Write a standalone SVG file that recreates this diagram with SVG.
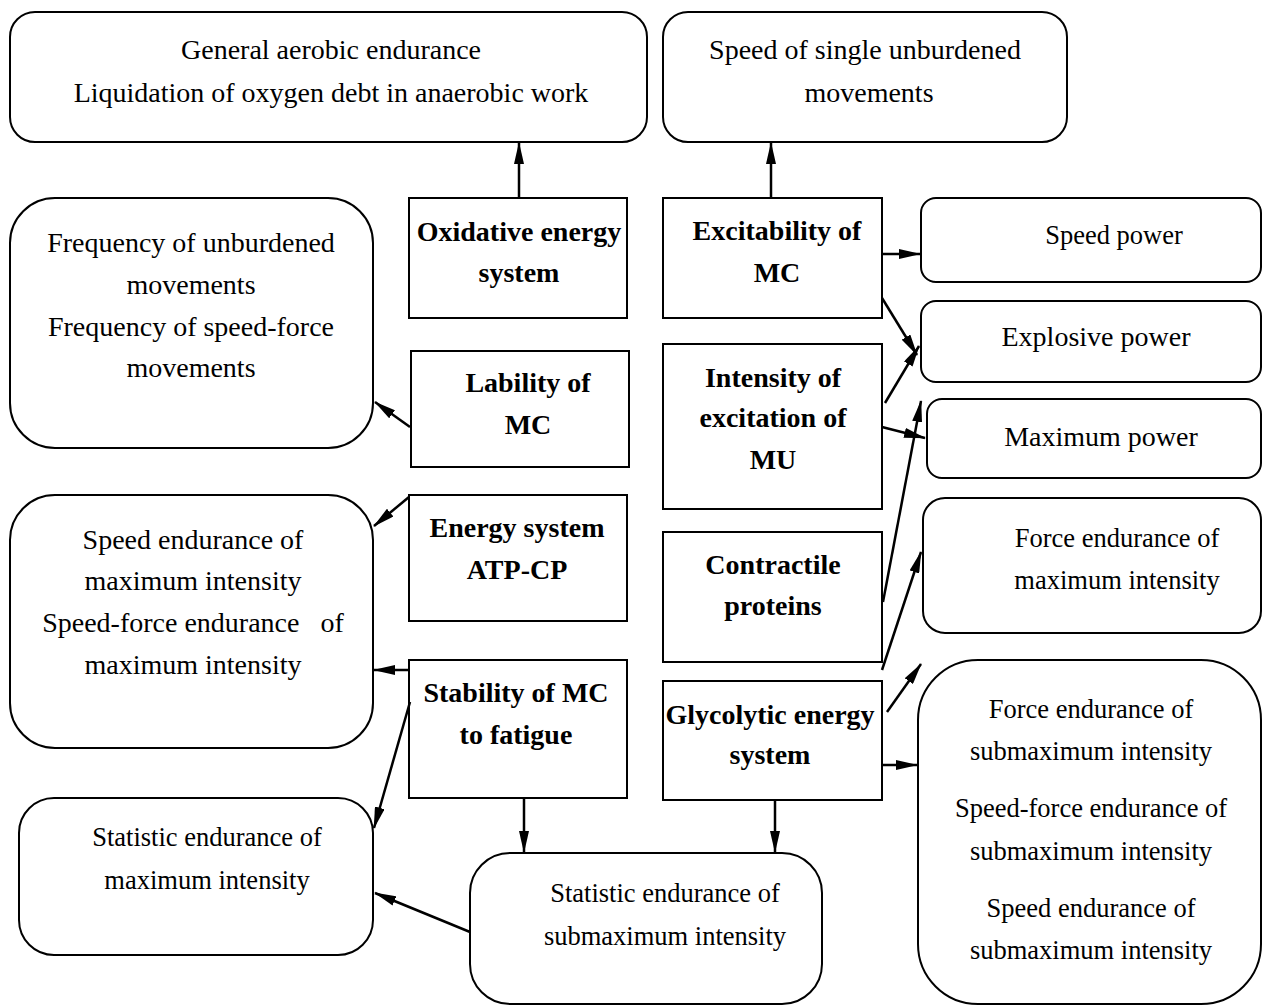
<svg xmlns="http://www.w3.org/2000/svg" width="1263" height="1006" viewBox="0 0 1263 1006">
<style>
.box{fill:#fff;stroke:#000;stroke-width:2}
.t{font-family:"Liberation Serif","Times New Roman",serif;font-size:28px;fill:#000;text-anchor:middle}
.s{font-size:26.5px}
.b{font-weight:bold}
.c line{stroke:#000;stroke-width:2.5;marker-end:url(#ah)}
</style>
<defs>
<marker id="ah" markerUnits="userSpaceOnUse" markerWidth="22" markerHeight="10" refX="21" refY="5" orient="auto">
<path d="M0,0 L22,5 L0,10 z" fill="#000"/>
</marker>
</defs>
<rect width="1263" height="1006" fill="#fff"/>
<g id="aerobic"><rect class="box" x="10" y="12" width="637" height="130" rx="25"/>
<text class="t" x="331" y="59">General aerobic endurance</text>
<text class="t" x="331" y="102">Liquidation of oxygen debt in anaerobic work</text></g>
<g id="speed-single"><rect class="box" x="663" y="12" width="404" height="130" rx="25"/>
<text class="t" x="865" y="59">Speed of single unburdened</text>
<text class="t" x="869" y="102">movements</text></g>
<g id="oxidative"><rect class="box" x="409" y="198" width="218" height="120"/>
<text class="t b" x="519" y="241">Oxidative energy</text>
<text class="t b" x="519" y="282">system</text></g>
<g id="excitability"><rect class="box" x="663" y="198" width="219" height="120"/>
<text class="t b" x="777" y="240">Excitability of</text>
<text class="t b" x="777" y="282">MC</text></g>
<g id="speed-power"><rect class="box" x="921" y="198" width="340" height="84" rx="15"/>
<text class="t s" x="1114" y="244">Speed power</text></g>
<g id="explosive"><rect class="box" x="921" y="301" width="340" height="81" rx="15"/>
<text class="t" x="1096" y="346">Explosive power</text></g>
<g id="maximum-power"><rect class="box" x="927" y="399" width="334" height="79" rx="15"/>
<text class="t" x="1101" y="446">Maximum power</text></g>
<g id="frequency"><rect class="box" x="10" y="198" width="363" height="250" rx="45"/>
<text class="t" x="191" y="252">Frequency of unburdened</text>
<text class="t" x="191" y="294">movements</text>
<text class="t" x="191" y="336">Frequency of speed-force</text>
<text class="t" x="191" y="377">movements</text></g>
<g id="lability"><rect class="box" x="411" y="351" width="218" height="116"/>
<text class="t b" x="528" y="392">Lability of</text>
<text class="t b" x="528" y="434">MC</text></g>
<g id="intensity"><rect class="box" x="663" y="344" width="219" height="165"/>
<text class="t b" x="773" y="387">Intensity of</text>
<text class="t b" x="773" y="427">excitation of</text>
<text class="t b" x="773" y="469">MU</text></g>
<g id="atp-cp"><rect class="box" x="409" y="495" width="218" height="126"/>
<text class="t b" x="517" y="537">Energy system</text>
<text class="t b" x="517" y="579">ATP-CP</text></g>
<g id="contractile"><rect class="box" x="663" y="532" width="219" height="130"/>
<text class="t b" x="773" y="574">Contractile</text>
<text class="t b" x="773" y="615">proteins</text></g>
<g id="force-max"><rect class="box" x="923" y="498" width="338" height="135" rx="22"/>
<text class="t s" x="1117" y="547">Force endurance of</text>
<text class="t s" x="1117" y="589">maximum intensity</text></g>
<g id="speed-end-max"><rect class="box" x="10" y="495" width="363" height="253" rx="45"/>
<text class="t" x="193" y="549">Speed endurance of</text>
<text class="t" x="193" y="590">maximum intensity</text>
<text class="t" x="193" y="632" style="white-space:pre">Speed-force endurance   of</text>
<text class="t" x="193" y="674">maximum intensity</text></g>
<g id="stability"><rect class="box" x="409" y="660" width="218" height="138"/>
<text class="t b" x="516" y="702">Stability of MC</text>
<text class="t b" x="516" y="744">to fatigue</text></g>
<g id="glycolytic"><rect class="box" x="663" y="681" width="219" height="119"/>
<text class="t b" x="770" y="724">Glycolytic energy</text>
<text class="t b" x="770" y="764">system</text></g>
<g id="submax-group"><rect class="box" x="918" y="660" width="343" height="344" rx="60"/>
<text class="t s" x="1091" y="718">Force endurance of</text>
<text class="t s" x="1091" y="760">submaximum intensity</text>
<text class="t s" x="1091" y="817">Speed-force endurance of</text>
<text class="t s" x="1091" y="860">submaximum intensity</text>
<text class="t s" x="1091" y="917">Speed endurance of</text>
<text class="t s" x="1091" y="959">submaximum intensity</text></g>
<g id="static-max"><rect class="box" x="19" y="798" width="354" height="157" rx="35"/>
<text class="t s" x="207" y="846">Statistic endurance of</text>
<text class="t s" x="207" y="889">maximum intensity</text></g>
<g id="static-submax"><rect class="box" x="470" y="853" width="352" height="151" rx="40"/>
<text class="t s" x="665" y="902">Statistic endurance of</text>
<text class="t s" x="665" y="945">submaximum intensity</text></g>
<g id="connectors" class="c">
<line x1="519" y1="198" x2="519" y2="143"/>
<line x1="771" y1="198" x2="771" y2="143"/>
<line x1="882" y1="254" x2="920" y2="254"/>
<line x1="882" y1="298" x2="917" y2="355"/>
<line x1="885" y1="403" x2="919" y2="346"/>
<line x1="882" y1="427" x2="925" y2="438"/>
<line x1="883" y1="602" x2="921" y2="401"/>
<line x1="882" y1="670" x2="921" y2="552"/>
<line x1="887" y1="712" x2="921" y2="664"/>
<line x1="882" y1="765" x2="917" y2="765"/>
<line x1="410" y1="427" x2="375" y2="402"/>
<line x1="409" y1="497" x2="374" y2="526"/>
<line x1="409" y1="670" x2="374" y2="670"/>
<line x1="410" y1="702" x2="374" y2="828"/>
<line x1="524" y1="798" x2="524" y2="852"/>
<line x1="775" y1="800" x2="775" y2="852"/>
<line x1="470" y1="932" x2="375" y2="893"/>
</g>
</svg>
